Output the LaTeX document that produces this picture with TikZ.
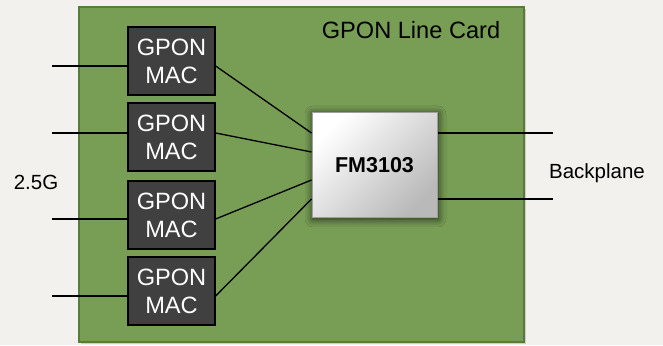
\documentclass[tikz,border=0pt]{standalone}
\usepackage{fontspec}
\setmainfont{Liberation Sans}
\usetikzlibrary{shadows.blur}
\definecolor{bgc}{RGB}{242,241,237}
\definecolor{cardfill}{RGB}{120,157,85}
\definecolor{carddraw}{RGB}{88,122,58}
\definecolor{macfill}{RGB}{64,64,64}
\tikzset{
  card/.style={draw=carddraw, fill=cardfill, line width=1.5pt},
  macbox/.style={draw=black, fill=macfill, line width=1.3pt, minimum width=87pt, minimum height=68pt, inner sep=0pt, text=white, align=center, font=\fontsize{23.6}{28}\selectfont},
  chip/.style={draw=gray!75, line width=1pt, top color=white, bottom color=gray!55, shading angle=45, minimum width=125pt, minimum height=105pt, inner sep=0pt, font=\bfseries\fontsize{21.5}{24}\selectfont, blur shadow={shadow xshift=1pt, shadow yshift=-1pt, shadow blur radius=8pt, shadow opacity=80}},
  wire/.style={draw=black, line width=1.3pt},
  lbl/.style={inner sep=0pt, font=\fontsize{20.5}{24}\selectfont},
  ttl/.style={inner sep=0pt, font=\fontsize{23.6}{26}\selectfont}
}
\begin{document}
\begin{tikzpicture}[x=1pt,y=1pt]
\fill[bgc] (0,0) rectangle (663,345);
\useasboundingbox (0,0) rectangle (663,345);
\fill[black, opacity=0.15] (81,1) rectangle (526,336);
\path[card] (79,3) rectangle (524,338);
\node[ttl] (title) at (411,315) {GPON Line Card};
\node[macbox] (m1) at (171.5,284) {GPON\\MAC};
\node[macbox] (m2) at (171.5,208) {GPON\\MAC};
\node[macbox] (m3) at (171.5,130) {GPON\\MAC};
\node[macbox] (m4) at (171.5,54) {GPON\\MAC};
\node[chip] (fm) at (374.5,179.5) {FM3103};
\coordinate (l1) at (52,279);
\coordinate (l2) at (52,212);
\coordinate (l3) at (52,126);
\coordinate (l4) at (52,49);
\coordinate (r1) at (553,212);
\coordinate (r2) at (553,146);
\draw[wire] (l1) -- ([yshift=-5pt]m1.west);
\draw[wire] (l2) -- ([yshift=4pt]m2.west);
\draw[wire] (l3) -- ([yshift=-4pt]m3.west);
\draw[wire] (l4) -- ([yshift=-5pt]m4.west);
\draw[wire] ([yshift=-5pt]m1.east) -- ([yshift=32.5pt]fm.west);
\draw[wire] ([yshift=4pt]m2.east) -- ([yshift=13.5pt]fm.west);
\draw[wire] ([yshift=-4pt]m3.east) -- ([yshift=-14.5pt]fm.west);
\draw[wire] ([yshift=-5pt]m4.east) -- ([yshift=-33.5pt]fm.west);
\draw[wire] ([yshift=32.5pt]fm.east) -- (r1);
\draw[wire] ([yshift=-33.5pt]fm.east) -- (r2);
\node[lbl] (rate) at (36,163) {2.5G};
\node[lbl] (bp) at (597,172) {Backplane};
\end{tikzpicture}
\end{document}
